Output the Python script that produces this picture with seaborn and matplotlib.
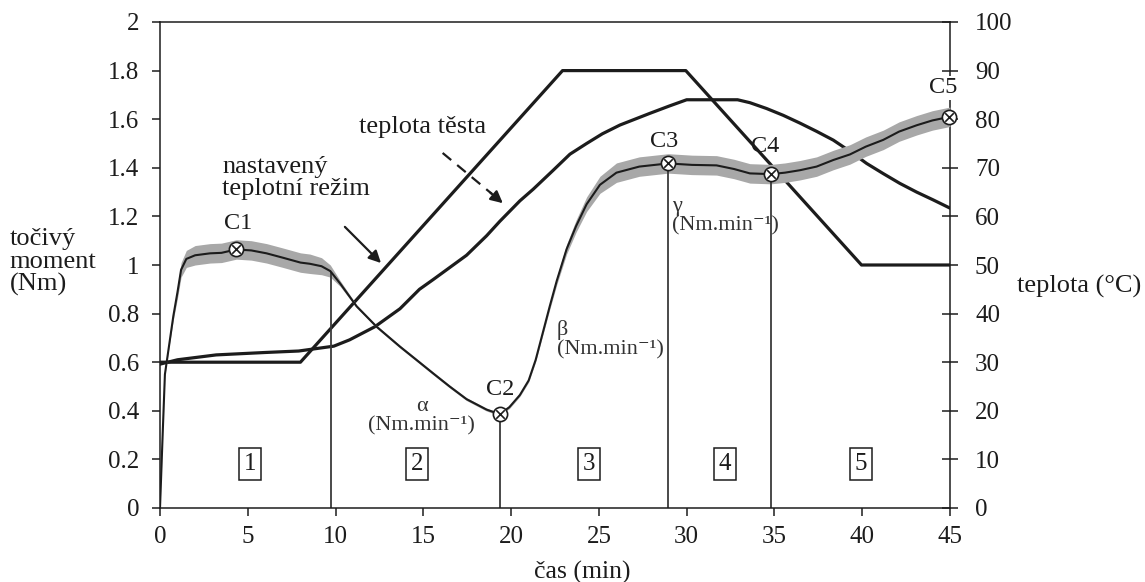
import numpy as np
import matplotlib
matplotlib.use("Agg")
import matplotlib.pyplot as plt
import seaborn as sns

# ---------------- data ----------------
torque_t = [0.0, 0.15, 0.28, 0.5, 0.76, 1.0, 1.2, 1.5, 2.0, 2.85, 3.5, 4.35, 5.2, 6.07,
            7.0, 8.0, 8.54, 9.2, 9.7, 10.25, 11.2, 12.34, 13.67, 14.6, 15.56, 16.5,
            17.46, 18.6, 19.35, 19.9, 20.5, 21.0, 21.4, 21.8, 22.2, 22.6, 23.16, 23.7,
            24.3, 25.06, 26.0, 27.3, 28.95, 30.3, 31.7, 32.7, 33.6, 34.8, 35.6, 36.45,
            37.4, 38.35, 39.3, 40.2, 41.2, 42.1, 43.1, 44.0, 45.0]
torque_nm = [0.0, 0.30, 0.55, 0.66, 0.79, 0.89, 0.98, 1.025, 1.04, 1.048, 1.05, 1.064,
             1.06, 1.048, 1.03, 1.01, 1.005, 0.995, 0.975, 0.925, 0.83, 0.746, 0.664,
             0.61, 0.554, 0.50, 0.448, 0.405, 0.386, 0.415, 0.465, 0.525, 0.61, 0.72,
             0.83, 0.935, 1.065, 1.16, 1.25, 1.33, 1.38, 1.405, 1.418, 1.412, 1.41,
             1.395, 1.377, 1.374, 1.38, 1.39, 1.405, 1.432, 1.455, 1.487, 1.515,
             1.549, 1.575, 1.595, 1.61]
# half-width of the grey (raw signal) band around the torque curve
torque_spread = [0.004, 0.004, 0.004, 0.004, 0.015, 0.025, 0.03, 0.035,
                 0.04, 0.04, 0.04, 0.04, 0.04, 0.04, 0.04, 0.04, 0.04, 0.035,
                 0.025, 0.012,
                 0.006, 0.006, 0.006, 0.006, 0.006, 0.006, 0.006, 0.006, 0.006,
                 0.006, 0.006, 0.007, 0.008, 0.01, 0.013, 0.016, 0.02, 0.025, 0.03,
                 0.035, 0.04,
                 0.04, 0.04, 0.04, 0.04, 0.04, 0.04, 0.04, 0.04, 0.04,
                 0.04, 0.04, 0.04, 0.04, 0.04, 0.04, 0.04, 0.04, 0.04]

set_t = [0.0, 8.0, 22.93, 29.95, 39.96, 45.0]
set_temp = [30, 30, 90, 90, 50, 50]

dough_t = [0.0, 1.0, 3.2, 6.0, 7.9, 9.9, 10.8, 12.24, 13.67, 14.78, 15.56, 16.7, 17.46,
           18.6, 19.36, 20.5, 21.26, 22.4, 23.35, 24.3, 25.2, 26.2, 27.9, 29.0, 30.0,
           32.9, 33.6, 34.55, 35.5, 36.45, 37.4, 38.35, 39.3, 40.25, 41.2, 42.14, 43.1,
           44.04, 45.0]
dough_temp = [29.6, 30.5, 31.5, 32.0, 32.3, 33.3, 34.6, 37.3, 41.0, 45.0, 47.0, 50.0,
              52.0, 56.0, 59.0, 63.2, 65.6, 69.5, 72.8, 75.0, 77.0, 78.8, 81.2, 82.7,
              84.0, 84.0, 83.4, 82.2, 80.8, 79.2, 77.5, 75.7, 73.4, 70.9, 68.8, 66.8,
              65.0, 63.4, 61.7]

phase_bounds = [9.72, 19.35, 28.95, 34.8]
point_t = [4.35, 19.35, 28.95, 34.8, 44.95]
point_labels = ["C1", "C2", "C3", "C4", "C5"]
phase_t = [5.13, 14.65, 24.45, 32.18, 39.92]
phase_labels = ["1", "2", "3", "4", "5"]

x_ticks = [0, 5, 10, 15, 20, 25, 30, 35, 40, 45]
torque_ticks = [0, 0.2, 0.4, 0.6, 0.8, 1.0, 1.2, 1.4, 1.6, 1.8, 2.0]
torque_ticklabels = ["0", "0.2", "0.4", "0.6", "0.8", "1", "1.2", "1.4", "1.6", "1.8", "2"]
temp_ticks = [0, 10, 20, 30, 40, 50, 60, 70, 80, 90, 100]

# ---------------- style ----------------
sns.set_style("ticks")
plt.rcParams['font.family'] = ['Liberation Serif', 'DejaVu Serif']
ink = '#1c1c1c'
grey_txt = '#333333'

fig = plt.figure(figsize=(11.45, 5.82), dpi=100)
fig.patch.set_facecolor('white')
ax = fig.add_axes([160 / 1145, 1 - 508 / 582, 790 / 1145, 486 / 582])
ax2 = ax.twinx()
ax.set_zorder(ax2.get_zorder() + 1)
ax.patch.set_visible(False)

# temperature curves (right axis)
sns.lineplot(x=set_t, y=set_temp, ax=ax2, color=ink, linewidth=2.3)
sns.lineplot(x=dough_t, y=dough_temp, ax=ax2, color=ink, linewidth=2.3)

# torque curve with grey band (left axis)
t = np.array(torque_t)
m = np.array(torque_nm)
s = np.array(torque_spread)
ax.fill_between(t, m - s, m + s, color='#a8a8a8', linewidth=0, zorder=2)
sns.lineplot(x=t, y=m, ax=ax, color=ink, linewidth=1.5, zorder=3)

# phase boundary lines
bound_top = np.interp(phase_bounds, t, m)
ax.vlines(phase_bounds, 0, bound_top, color='#3a3a3a', linewidth=1.3, zorder=2)

# characteristic points
pt_y = np.interp(point_t, t, m)
sns.scatterplot(x=point_t, y=pt_y, ax=ax, marker='o', s=105, facecolor='white',
                edgecolor=ink, linewidth=1.2, zorder=5, clip_on=False)
sns.scatterplot(x=point_t, y=pt_y, ax=ax, marker='x', s=38, color=ink,
                linewidth=1.2, zorder=6, clip_on=False)
offsets = [(1, 19), (0, 18), (-3, 16), (-4, 20), (-4, 21)]
for px, py, lab, off in zip(point_t, pt_y, point_labels, offsets):
    kw = {}
    if lab == "C5":
        kw['bbox'] = dict(boxstyle='square,pad=0.05', fc='white', ec='none')
    ax.annotate(lab, (px, py), xytext=off, textcoords='offset points',
                ha='center', va='center', fontsize=17.5, color=ink, zorder=7,
                annotation_clip=False, **kw)

# phase number boxes
for bt, lab in zip(phase_t, phase_labels):
    ax.text(bt, 0.183, lab, ha='center', va='center', fontsize=18, color=ink,
            bbox=dict(boxstyle='square,pad=0.2', fc='white', ec=ink, lw=1.1), zorder=6)

# rate labels
ax.text(14.9, 0.377, "α\n(Nm.min⁻¹)", ha='center', va='center', multialignment='center',
        fontsize=16, color=grey_txt, linespacing=1.05)
ax.text(22.6, 0.693, "β\n(Nm.min⁻¹)", ha='left', va='center', multialignment='left',
        fontsize=16, color=grey_txt, linespacing=1.05)
ax.text(29.16, 1.2, "γ\n(Nm.min⁻¹)", ha='left', va='center', multialignment='left',
        fontsize=16, color=grey_txt, linespacing=1.05)

# curve annotations
ax.text(3.53, 1.358, "nastavený\nteplotní režim", ha='left', va='center',
        fontsize=19, color=ink, linespacing=1.0)
ax.annotate('', xy=(12.7, 1.0), xytext=(10.42, 1.165),
            arrowprops=dict(arrowstyle='-|>', color=ink, lw=1.6, mutation_scale=18))
ax.text(14.98, 1.568, "teplota těsta", ha='center', va='center', fontsize=19, color=ink)
ax.plot([16.1, 18.9], [1.461, 1.293], color=ink, lw=1.6, linestyle=(0, (5, 3.5)))
ax.annotate('', xy=(19.65, 1.247), xytext=(18.7, 1.305),
            arrowprops=dict(arrowstyle='-|>', color=ink, lw=1.6, mutation_scale=18))

# axis titles
ax.text(-0.19, 0.506, "točivý\nmoment\n(Nm)", transform=ax.transAxes, ha='left',
        va='center', fontsize=19, color=ink, linespacing=1.02)
ax.text(1.085, 0.455, "teplota (°C)", transform=ax.transAxes, ha='left', va='center',
        fontsize=19, color=ink)
ax.text(0.534, -0.132, "čas (min)", transform=ax.transAxes, ha='center', va='center',
        fontsize=18.5, color=ink)

# axes
ax.set_xlim(0, 45)
ax.set_ylim(0, 2)
ax2.set_ylim(0, 100)
ax.set_xticks(x_ticks)
ax.set_xticklabels([str(v) for v in x_ticks])
ax.set_yticks(torque_ticks)
ax.set_yticklabels(torque_ticklabels)
ax2.set_yticks(temp_ticks)
ax2.set_yticklabels([str(v) for v in temp_ticks])
ax.set_xlabel('')
ax.set_ylabel('')
ax2.set_ylabel('')

for sp in ['left', 'bottom', 'top']:
    ax.spines[sp].set_visible(True)
    ax.spines[sp].set_linewidth(1.1)
    ax.spines[sp].set_color(ink)
ax.spines['right'].set_visible(False)
for sp in ['left', 'bottom', 'top']:
    ax2.spines[sp].set_visible(False)
ax2.spines['right'].set_visible(True)
ax2.spines['right'].set_linewidth(1.1)
ax2.spines['right'].set_color(ink)

ax.tick_params(axis='y', direction='out', length=6, width=1.1, labelsize=18,
               colors=ink, pad=9)
ax.tick_params(axis='x', direction='out', length=6, width=1.1, labelsize=18,
               colors=ink, pad=7)
ax2.tick_params(axis='y', direction='inout', length=12, width=1.1, labelsize=18,
                colors=ink, pad=12)

fig.savefig("out.png", dpi=100, facecolor='white')
